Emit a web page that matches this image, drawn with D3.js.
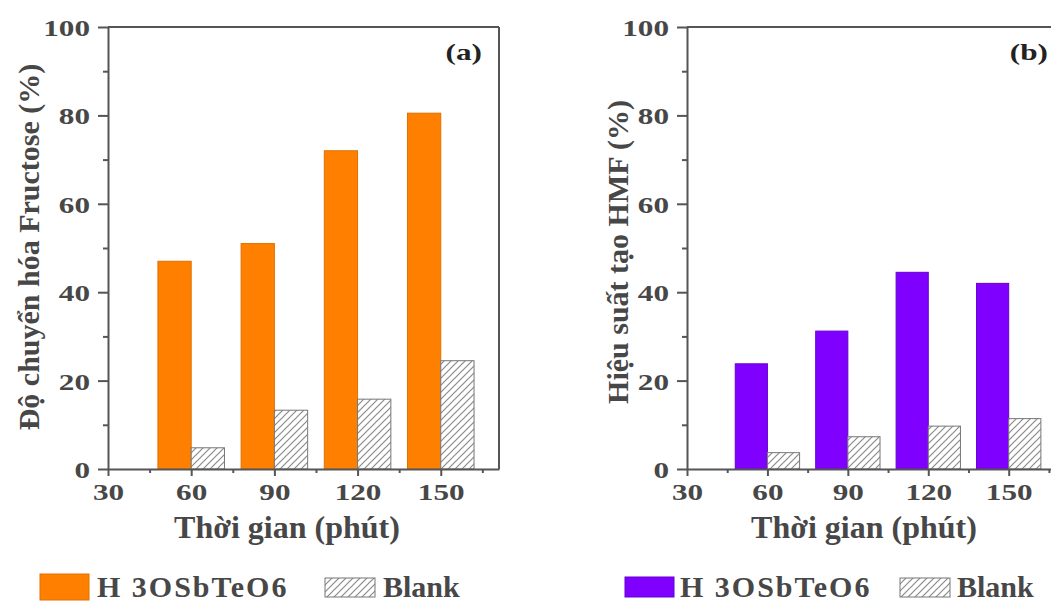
<!DOCTYPE html>
<html>
<head>
<meta charset="utf-8">
<script src="https://cdn.jsdelivr.net/npm/d3@7"></script>
<style>
  html, body { margin: 0; padding: 0; background: #fff; }
  svg { display: block; }
  text { font-family: "Liberation Serif", "Times New Roman", serif; font-weight: bold; fill: #474747; }
</style>
</head>
<body>
<svg id="chart" width="1051" height="602"></svg>
<script>
// Reaction time (minutes)
const times = [60, 90, 120, 150];
const xTicks = [30, 60, 90, 120, 150];
const xMinor = [45, 75, 105, 135, 165];
const yTicks = [0, 20, 40, 60, 80, 100];
const yMinor = [10, 30, 50, 70, 90];

// (a) Fructose conversion (%)
const conversionCatalyst = [47, 51, 72, 80.5];
const conversionBlank = [4.8, 13.3, 15.8, 24.5];

// (b) HMF yield (%)
const yieldCatalyst = [23.8, 31.2, 44.5, 42];
const yieldBlank = [3.7, 7.3, 9.7, 11.4];

const seriesNames = ["H 3OSbTeO6", "Blank"];
const panelTitles = ["Độ chuyển hóa Fructose (%)", "Hiệu suất tạo HMF (%)"];
const panelTags = ["(a)", "(b)"];
const xTitle = "Thời gian (phút)";

const svg = d3.select("#chart");
const axisColor = "#555";
const digitScale = 1.3;

// diagonal hatch for the blank series
const defs = svg.append("defs");
const pat = defs.append("pattern")
  .attr("id", "hatch")
  .attr("patternUnits", "userSpaceOnUse")
  .attr("width", 7).attr("height", 7);
pat.append("rect").attr("width", 7).attr("height", 7).attr("fill", "#fff");
pat.append("path")
  .attr("d", "M-1,1 l2,-2 M0,7 l7,-7 M6,8 l2,-2")
  .attr("stroke", "#8a8a8a").attr("stroke-width", 1.2);

const panels = [
  {
    left: 108, right: 499, xMax: 171,
    catalyst: conversionCatalyst, blank: conversionBlank,
    color: "#ff8000", edge: "#e07000",
    title: panelTitles[0], titleX: 39, titleY: 247,
    tag: panelTags[0], xTitleX: 287,
    legend: { sw1: 40, tx1: 97, sw2: 325, tx2: 383, swY: 574, swH: 26 }
  },
  {
    left: 687, right: 1065, xMax: 171,
    catalyst: yieldCatalyst, blank: yieldBlank,
    color: "#7f00ff", edge: "#6600d0",
    title: panelTitles[1], titleX: 628, titleY: 252,
    tag: panelTags[1], xTitleX: 864,
    legend: { sw1: 625, tx1: 680, sw2: 900, tx2: 957, swY: 577, swH: 20 }
  }
];

const plotTop = 27, plotBottom = 469;
const barWidth = 12; // minutes

panels.forEach(p => {
  const x = d3.scaleLinear().domain([30, p.xMax]).range([p.left, p.right]);
  const y = d3.scaleLinear().domain([0, 100]).range([plotBottom, plotTop]);
  const g = svg.append("g");

  // catalyst bars (left of each time tick)
  g.selectAll(".cat").data(times).enter().append("rect")
    .attr("x", (d) => x(d - barWidth))
    .attr("y", (d, i) => y(p.catalyst[i]))
    .attr("width", (d) => x(d) - x(d - barWidth))
    .attr("height", (d, i) => y(0) - y(p.catalyst[i]))
    .attr("fill", p.color)
    .attr("stroke", p.edge).attr("stroke-width", 1);

  // blank bars (right of each time tick)
  g.selectAll(".blank").data(times).enter().append("rect")
    .attr("x", (d) => x(d))
    .attr("y", (d, i) => y(p.blank[i]))
    .attr("width", (d) => x(d + barWidth) - x(d))
    .attr("height", (d, i) => y(0) - y(p.blank[i]))
    .attr("fill", "url(#hatch)")
    .attr("stroke", "#777").attr("stroke-width", 1);

  // frame: top and right edges
  g.append("line").attr("x1", x(30)).attr("x2", x(p.xMax)).attr("y1", y(100)).attr("y2", y(100))
    .attr("stroke", axisColor).attr("stroke-width", 2);
  g.append("line").attr("x1", x(p.xMax)).attr("x2", x(p.xMax)).attr("y1", y(100)).attr("y2", y(0))
    .attr("stroke", axisColor).attr("stroke-width", 2);

  // y axis
  const yAxis = g.append("g").attr("transform", `translate(${x(30)},0)`)
    .call(d3.axisLeft(y).tickValues(yTicks).tickSize(10).tickSizeOuter(0));
  g.append("g").attr("transform", `translate(${x(30)},0)`)
    .call(d3.axisLeft(y).tickValues(yMinor).tickSize(5).tickSizeOuter(0).tickFormat(""))
    .call(a => a.select(".domain").remove())
    .call(a => a.selectAll("line").attr("stroke", axisColor).attr("stroke-width", 2));

  // x axis
  const xAxis = g.append("g").attr("transform", `translate(0,${y(0)})`)
    .call(d3.axisBottom(x).tickValues(xTicks).tickSize(7).tickSizeOuter(0));
  g.append("g").attr("transform", `translate(0,${y(0)})`)
    .call(d3.axisBottom(x).tickValues(xMinor).tickSize(4).tickSizeOuter(0).tickFormat(""))
    .call(a => a.select(".domain").remove())
    .call(a => a.selectAll("line").attr("stroke", axisColor).attr("stroke-width", 2));

  [yAxis, xAxis].forEach(a => {
    a.selectAll(".domain, line").attr("stroke", axisColor).attr("stroke-width", 2);
    a.selectAll("text").attr("fill", "#474747").attr("font-family", null).attr("font-size", null)
      .style("font-size", "24px");
  });

  // wide digits on the tick labels
  yAxis.selectAll(".tick text")
    .attr("x", -18 / digitScale).attr("dy", "0.35em")
    .attr("transform", `scale(${digitScale},1)`);
  xAxis.selectAll(".tick text")
    .attr("x", 0).attr("y", 31).attr("dy", 0)
    .attr("transform", `scale(${digitScale},1)`);

  // panel tag
  g.append("text")
    .attr("transform", `translate(${x(p.xMax) - 17},60) scale(1.3,1)`)
    .attr("text-anchor", "end").style("font-size", "24px").style("fill", "#222")
    .text(p.tag);

  // axis titles
  g.append("text")
    .attr("transform", `translate(${p.titleX},${p.titleY}) rotate(-90)`)
    .attr("text-anchor", "middle").style("font-size", "30px")
    .text(p.title);
  g.append("text").attr("x", p.xTitleX).attr("y", 538)
    .attr("text-anchor", "middle").style("font-size", "32px")
    .text(xTitle);

  // legend
  const L = p.legend;
  g.append("rect").attr("x", L.sw1).attr("y", L.swY).attr("width", 49).attr("height", L.swH)
    .attr("fill", p.color).attr("stroke", p.edge);
  g.append("text").attr("x", L.tx1).attr("y", 597).style("font-size", "30px")
    .style("letter-spacing", "2px").text(seriesNames[0]);
  g.append("rect").attr("x", L.sw2).attr("y", 578).attr("width", 50).attr("height", 19)
    .attr("fill", "url(#hatch)").attr("stroke", "#777");
  g.append("text").attr("x", L.tx2).attr("y", 597).style("font-size", "30px")
    .text(seriesNames[1]);
});
</script>
</body>
</html>
